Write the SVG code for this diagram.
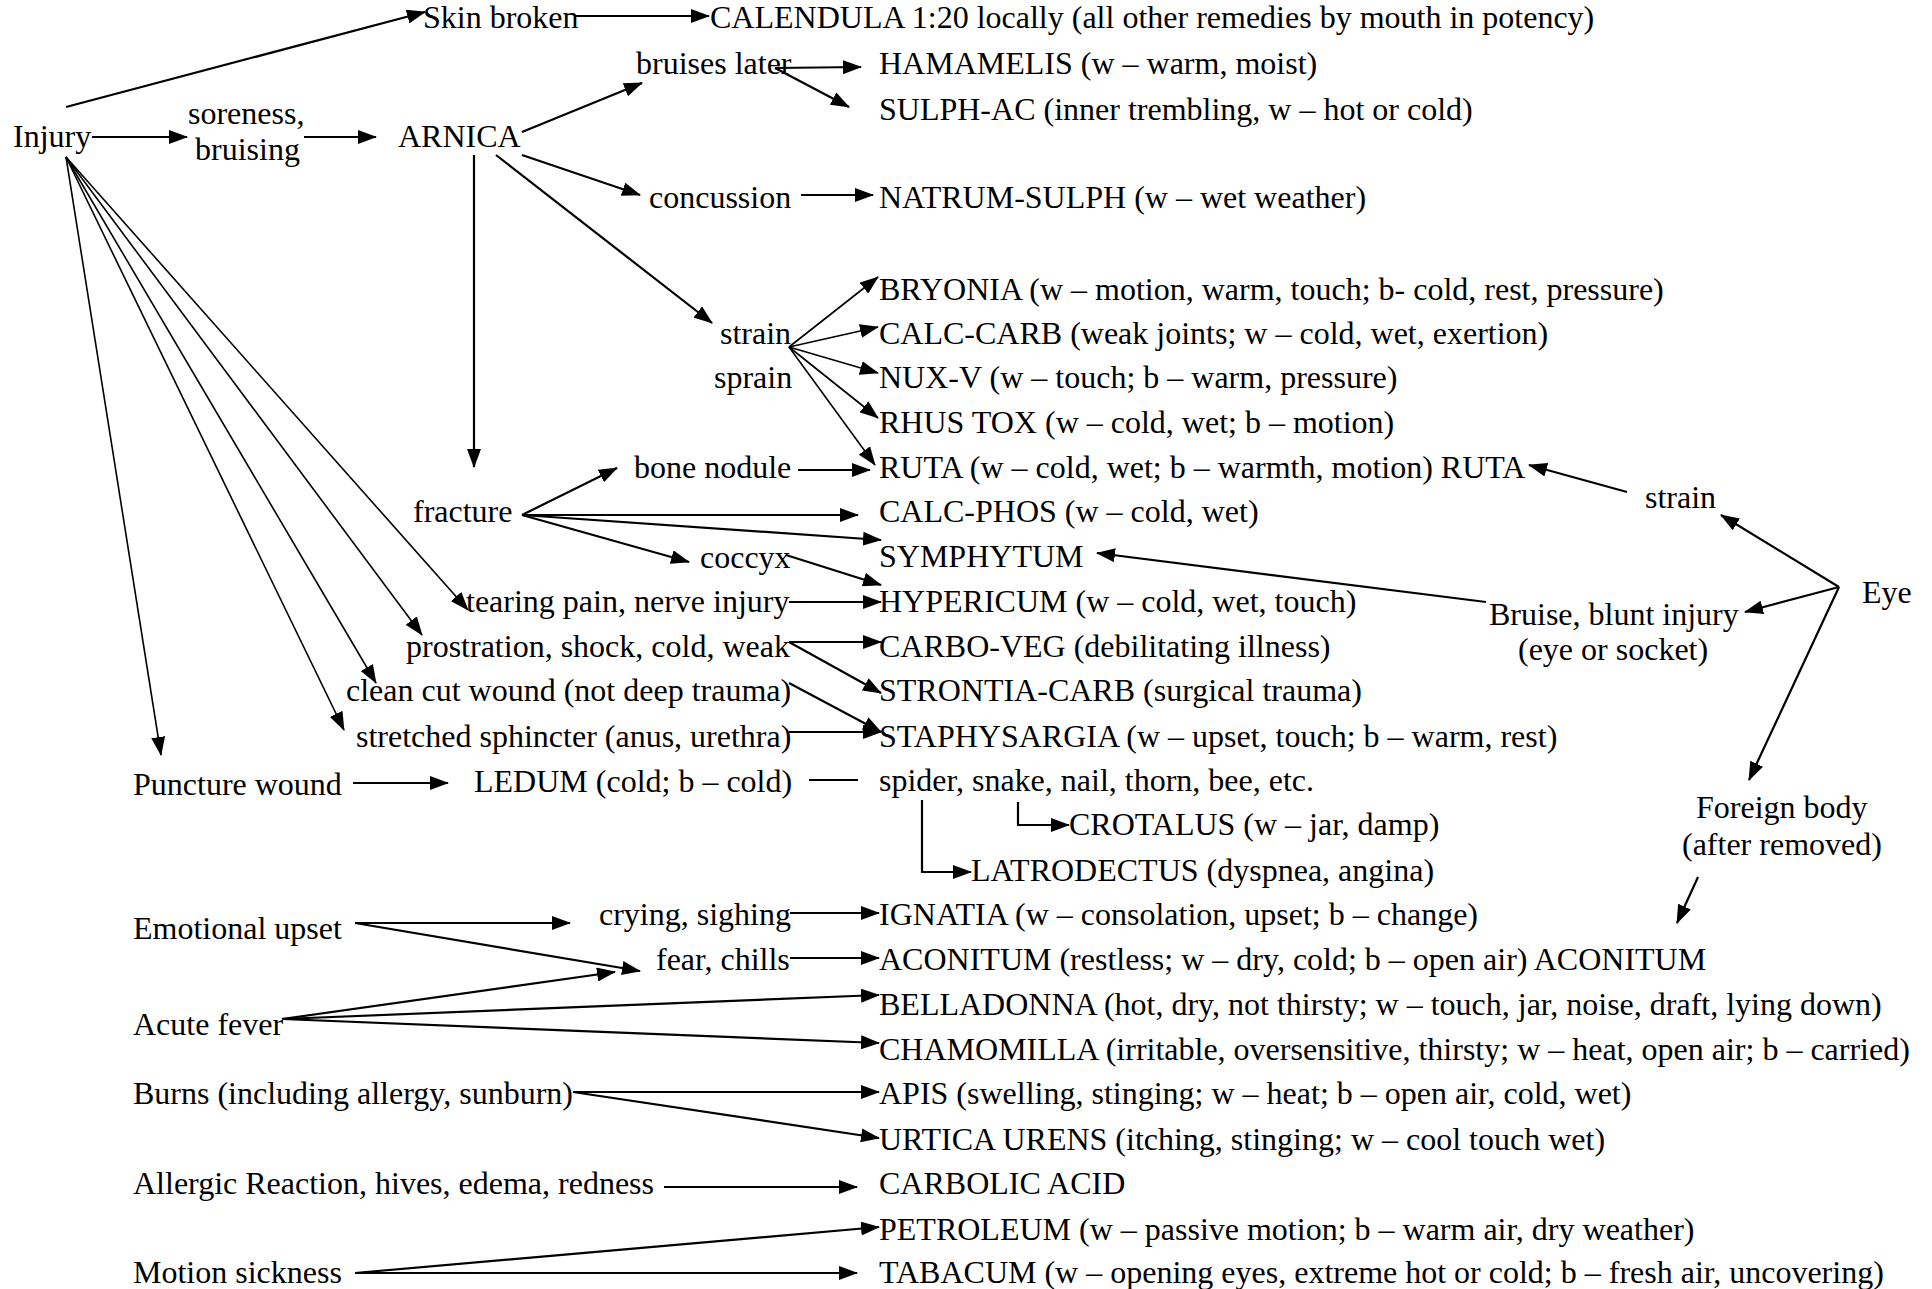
<svg xmlns="http://www.w3.org/2000/svg" width="1932" height="1289" viewBox="0 0 1932 1289">
<defs>
<style>
text{font-family:"Liberation Serif","Times New Roman",serif;font-size:32px;fill:#000}
.c line,.c polyline{stroke:#000;stroke-width:2.2;fill:none}
.c .t{stroke-width:1.6}
.c .a{marker-end:url(#ah)}
</style>
<marker id="ah" markerUnits="userSpaceOnUse" markerWidth="19" markerHeight="14" refX="18" refY="7" orient="auto" viewBox="0 0 19 14">
<path d="M0,0 L19,7 L0,14 z" fill="#000"/>
</marker>
</defs>
<rect width="1932" height="1289" fill="#fff"/>
<g class="c" id="connectors">
<line class="a" x1="66" y1="107" x2="425" y2="12"/>
<line class="a" x1="574" y1="16" x2="709" y2="16"/>
<line class="a" x1="92" y1="137" x2="187" y2="137"/>
<line class="a" x1="304" y1="137" x2="376" y2="137"/>
<line class="a" x1="522" y1="132" x2="642" y2="83"/>
<line class="a" x1="775" y1="68" x2="861" y2="67"/>
<line class="a" x1="775" y1="68" x2="849" y2="107"/>
<line class="a" x1="522" y1="155" x2="640" y2="195"/>
<line class="a" x1="801" y1="195" x2="873" y2="195"/>
<line class="a" x1="496" y1="155" x2="712" y2="323"/>
<line class="a" x1="474" y1="155" x2="474" y2="467"/>
<line class="a t" x1="789" y1="347" x2="878" y2="277"/>
<line class="a t" x1="789" y1="347" x2="878" y2="327"/>
<line class="a t" x1="789" y1="347" x2="878" y2="373"/>
<line class="a t" x1="789" y1="347" x2="878" y2="418"/>
<line class="a t" x1="789" y1="347" x2="875" y2="465"/>
<line class="a" x1="798" y1="470" x2="870" y2="470"/>
<line class="a" x1="522" y1="515" x2="617" y2="468"/>
<line class="a" x1="522" y1="515" x2="858" y2="515"/>
<line class="a" x1="522" y1="515" x2="881" y2="540"/>
<line class="a" x1="522" y1="515" x2="689" y2="562"/>
<line class="a" x1="786" y1="555" x2="881" y2="585"/>
<line class="a t" x1="66" y1="157" x2="468" y2="610"/>
<line class="a t" x1="66" y1="157" x2="422" y2="635"/>
<line class="a t" x1="66" y1="157" x2="376" y2="683"/>
<line class="a t" x1="66" y1="157" x2="344" y2="730"/>
<line class="a t" x1="66" y1="157" x2="161" y2="755"/>
<line class="a" x1="789" y1="602" x2="881" y2="602"/>
<line class="a" x1="789" y1="642" x2="881" y2="642"/>
<line class="a" x1="789" y1="642" x2="881" y2="693"/>
<line class="a" x1="789" y1="683" x2="881" y2="732"/>
<line class="a" x1="789" y1="732" x2="881" y2="732"/>
<line class="a" x1="353" y1="783" x2="448" y2="783"/>
<line x1="809" y1="780" x2="858" y2="780"/>
<polyline class="a" points="1018,802 1018,825 1069,825"/>
<polyline class="a" points="922,800 922,872 971,872"/>
<line class="a" x1="1839" y1="587" x2="1721" y2="515"/>
<line class="a" x1="1627" y1="492" x2="1529" y2="465"/>
<line class="a" x1="1839" y1="587" x2="1745" y2="612"/>
<line class="a" x1="1486" y1="602" x2="1097" y2="553"/>
<line class="a" x1="1839" y1="587" x2="1749" y2="780"/>
<line class="a" x1="1698" y1="877" x2="1677" y2="923"/>
<line class="a" x1="355" y1="923" x2="570" y2="923"/>
<line class="a" x1="355" y1="923" x2="640" y2="971"/>
<line class="a" x1="282" y1="1019" x2="615" y2="972"/>
<line class="a" x1="282" y1="1019" x2="879" y2="995"/>
<line class="a" x1="282" y1="1019" x2="879" y2="1043"/>
<line class="a" x1="790" y1="913" x2="879" y2="913"/>
<line class="a" x1="790" y1="958" x2="879" y2="958"/>
<line class="a" x1="573" y1="1092" x2="879" y2="1092"/>
<line class="a" x1="573" y1="1092" x2="879" y2="1138"/>
<line class="a" x1="664" y1="1187" x2="857" y2="1187"/>
<line class="a" x1="355" y1="1273" x2="879" y2="1227"/>
<line class="a" x1="355" y1="1273" x2="857" y2="1273"/>
</g>
<g id="n-skin"><text x="423" y="28">Skin broken</text></g>
<g id="n-calendula"><text x="710" y="28">CALENDULA 1:20 locally (all other remedies by mouth in potency)</text></g>
<g id="n-bruises"><text x="636" y="74">bruises later</text></g>
<g id="n-hamamelis"><text x="879" y="74">HAMAMELIS (w – warm, moist)</text></g>
<g id="n-sulphac"><text x="879" y="120">SULPH-AC (inner trembling, w – hot or cold)</text></g>
<g id="n-injury"><text x="13" y="147">Injury</text></g>
<g id="n-soreness"><text x="188" y="124">soreness,</text><text x="195" y="160">bruising</text></g>
<g id="n-arnica"><text x="398" y="147">ARNICA</text></g>
<g id="n-concussion"><text x="649" y="208">concussion</text></g>
<g id="n-natrum"><text x="879" y="208">NATRUM-SULPH (w – wet weather)</text></g>
<g id="n-bryonia"><text x="879" y="300">BRYONIA (w – motion, warm, touch; b- cold, rest, pressure)</text></g>
<g id="n-strain"><text x="720" y="344">strain</text><text x="714" y="388">sprain</text></g>
<g id="n-calccarb"><text x="879" y="344">CALC-CARB (weak joints; w – cold, wet, exertion)</text></g>
<g id="n-nuxv"><text x="879" y="388">NUX-V (w – touch; b – warm, pressure)</text></g>
<g id="n-rhus"><text x="879" y="433">RHUS TOX (w – cold, wet; b – motion)</text></g>
<g id="n-bone"><text x="634" y="478">bone nodule</text></g>
<g id="n-ruta"><text x="879" y="478">RUTA (w – cold, wet; b – warmth, motion) RUTA</text></g>
<g id="n-eyestrain"><text x="1645" y="508">strain</text></g>
<g id="n-fracture"><text x="413" y="522">fracture</text></g>
<g id="n-calcphos"><text x="879" y="522">CALC-PHOS (w – cold, wet)</text></g>
<g id="n-symphytum"><text x="879" y="567">SYMPHYTUM</text></g>
<g id="n-coccyx"><text x="700" y="568">coccyx</text></g>
<g id="n-tearing"><text x="466" y="612">tearing pain, nerve injury</text></g>
<g id="n-hypericum"><text x="879" y="612">HYPERICUM (w – cold, wet, touch)</text></g>
<g id="n-eye"><text x="1862" y="603">Eye</text></g>
<g id="n-bruise"><text x="1489" y="625">Bruise, blunt injury</text><text x="1518" y="660">(eye or socket)</text></g>
<g id="n-prostration"><text x="406" y="657">prostration, shock, cold, weak</text></g>
<g id="n-carboveg"><text x="879" y="657">CARBO-VEG (debilitating illness)</text></g>
<g id="n-cleancut"><text x="346" y="701">clean cut wound (not deep trauma)</text></g>
<g id="n-strontia"><text x="879" y="701">STRONTIA-CARB (surgical trauma)</text></g>
<g id="n-sphincter"><text x="356" y="747">stretched sphincter (anus, urethra)</text></g>
<g id="n-staphy"><text x="879" y="747">STAPHYSARGIA (w – upset, touch; b – warm, rest)</text></g>
<g id="n-puncture"><text x="133" y="795">Puncture wound</text></g>
<g id="n-ledum"><text x="474" y="792">LEDUM (cold; b – cold)</text></g>
<g id="n-spider"><text x="879" y="791">spider, snake, nail, thorn, bee, etc.</text></g>
<g id="n-crotalus"><text x="1069" y="835">CROTALUS (w – jar, damp)</text></g>
<g id="n-foreign"><text x="1696" y="818">Foreign body</text><text x="1682" y="855">(after removed)</text></g>
<g id="n-latro"><text x="971" y="881">LATRODECTUS (dyspnea, angina)</text></g>
<g id="n-emotional"><text x="133" y="939">Emotional upset</text></g>
<g id="n-crying"><text x="599" y="925">crying, sighing</text></g>
<g id="n-ignatia"><text x="879" y="925">IGNATIA (w – consolation, upset; b – change)</text></g>
<g id="n-fear"><text x="656" y="970">fear, chills</text></g>
<g id="n-aconitum"><text x="879" y="970">ACONITUM (restless; w – dry, cold; b – open air) ACONITUM</text></g>
<g id="n-belladonna"><text x="879" y="1015">BELLADONNA (hot, dry, not thirsty; w – touch, jar, noise, draft, lying down)</text></g>
<g id="n-fever"><text x="133" y="1035">Acute fever</text></g>
<g id="n-chamomilla"><text x="879" y="1060">CHAMOMILLA (irritable, oversensitive, thirsty; w – heat, open air; b – carried)</text></g>
<g id="n-burns"><text x="133" y="1104">Burns (including allergy, sunburn)</text></g>
<g id="n-apis"><text x="879" y="1104">APIS (swelling, stinging; w – heat; b – open air, cold, wet)</text></g>
<g id="n-urtica"><text x="879" y="1150">URTICA URENS (itching, stinging; w – cool touch wet)</text></g>
<g id="n-allergic"><text x="133" y="1194">Allergic Reaction, hives, edema, redness</text></g>
<g id="n-carbolic"><text x="879" y="1194">CARBOLIC ACID</text></g>
<g id="n-petroleum"><text x="879" y="1240">PETROLEUM (w – passive motion; b – warm air, dry weather)</text></g>
<g id="n-motion"><text x="133" y="1283">Motion sickness</text></g>
<g id="n-tabacum"><text x="879" y="1283">TABACUM (w – opening eyes, extreme hot or cold; b – fresh air, uncovering)</text></g>
</svg>
